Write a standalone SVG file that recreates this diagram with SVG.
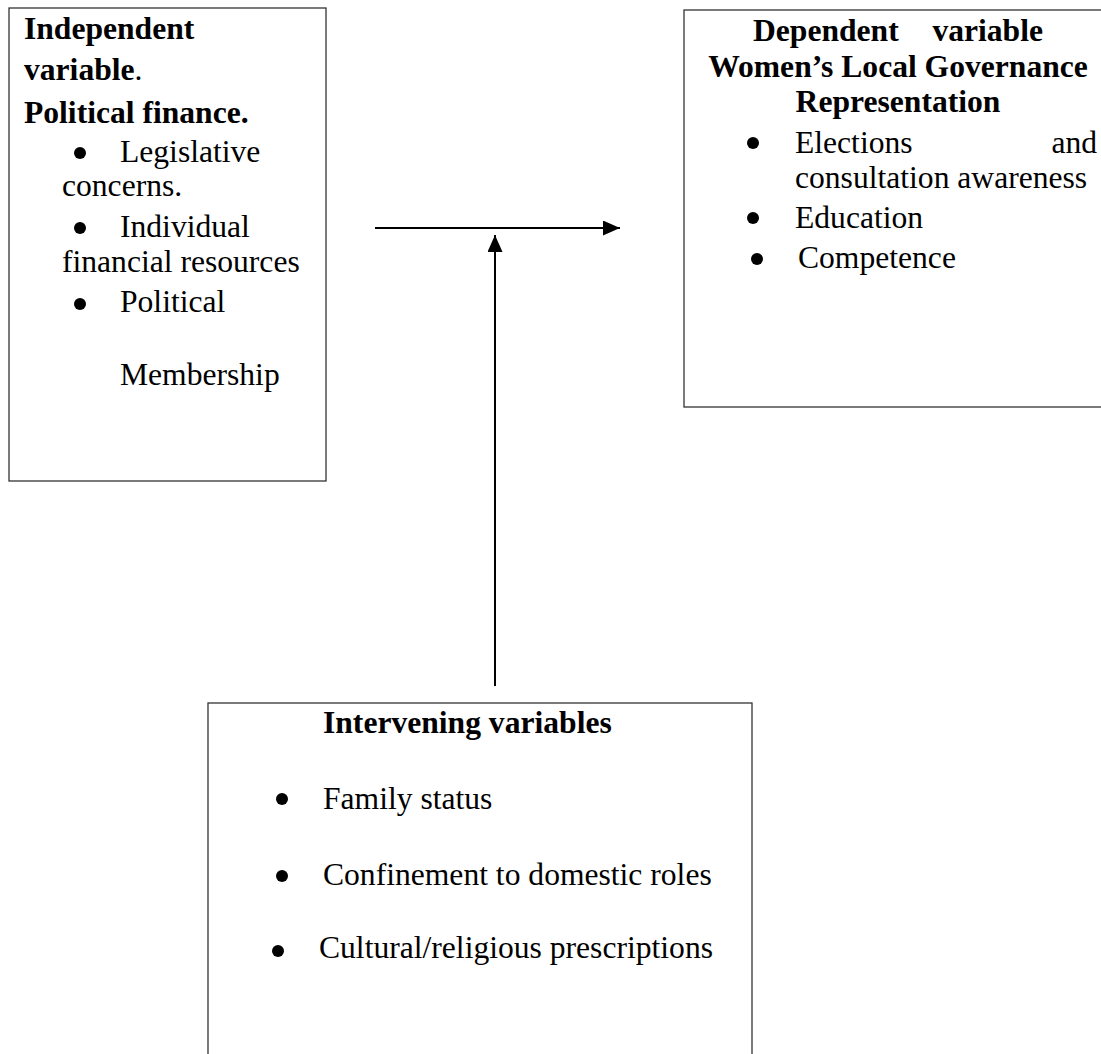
<svg xmlns="http://www.w3.org/2000/svg" width="1101" height="1054" viewBox="0 0 1101 1054">
<style>
.box{fill:#fff;stroke:#333;stroke-width:1.3}
text{font-family:"Liberation Serif","Times New Roman",serif;font-size:31.6px;fill:#000}
.b{font-weight:bold}
.dot{fill:#000}
.conn{stroke:#000;stroke-width:2;fill:none}
</style>
<defs>
<marker id="ah" markerWidth="17" markerHeight="15" refX="17" refY="7.5" orient="auto" markerUnits="userSpaceOnUse" viewBox="0 0 17 15">
<path d="M0,0 L17,7.5 L0,15 Z" fill="#000"/>
</marker>
</defs>
<rect width="1101" height="1054" fill="#fff"/>
<g id="independent">
<rect class="box" x="9" y="8" width="317" height="473"/>
<text class="b" x="24" y="39">Independent</text>
<text x="24" y="80"><tspan class="b">variable</tspan>.</text>
<text class="b" x="24" y="123">Political finance.</text>
<circle class="dot" cx="80" cy="153" r="6"/>
<text x="120" y="162">Legislative</text>
<text x="62" y="196">concerns.</text>
<circle class="dot" cx="80" cy="228" r="6"/>
<text x="120" y="237">Individual</text>
<text x="62" y="272">financial resources</text>
<circle class="dot" cx="80" cy="304" r="6"/>
<text x="120" y="312">Political</text>
<text x="120" y="385">Membership</text>
</g>
<g id="dependent">
<rect class="box" x="684" y="10" width="430" height="397"/>
<text class="b" x="753" y="41">Dependent</text>
<text class="b" x="1043" y="41" text-anchor="end">variable</text>
<text class="b" x="898" y="77" text-anchor="middle">Women’s Local Governance</text>
<text class="b" x="898" y="112" text-anchor="middle">Representation</text>
<circle class="dot" cx="753" cy="143" r="6"/>
<text x="795" y="153">Elections</text>
<text x="1097" y="153" text-anchor="end">and</text>
<text x="795" y="188">consultation awareness</text>
<circle class="dot" cx="753" cy="218" r="6"/>
<text x="795" y="228">Education</text>
<circle class="dot" cx="757" cy="259" r="6"/>
<text x="798" y="268">Competence</text>
</g>
<g id="intervening">
<rect class="box" x="208" y="703" width="544" height="400"/>
<text class="b" x="323" y="733">Intervening variables</text>
<circle class="dot" cx="282" cy="799" r="6"/>
<text x="323" y="809">Family status</text>
<circle class="dot" cx="282" cy="876" r="6"/>
<text x="323" y="885">Confinement to domestic roles</text>
<circle class="dot" cx="278" cy="951" r="6"/>
<text x="319" y="958">Cultural/religious prescriptions</text>
</g>
<g id="connectors">
<line class="conn" x1="375" y1="228" x2="620" y2="228" marker-end="url(#ah)"/>
<line class="conn" x1="495" y1="686" x2="495" y2="235" marker-end="url(#ah)"/>
</g>
</svg>
